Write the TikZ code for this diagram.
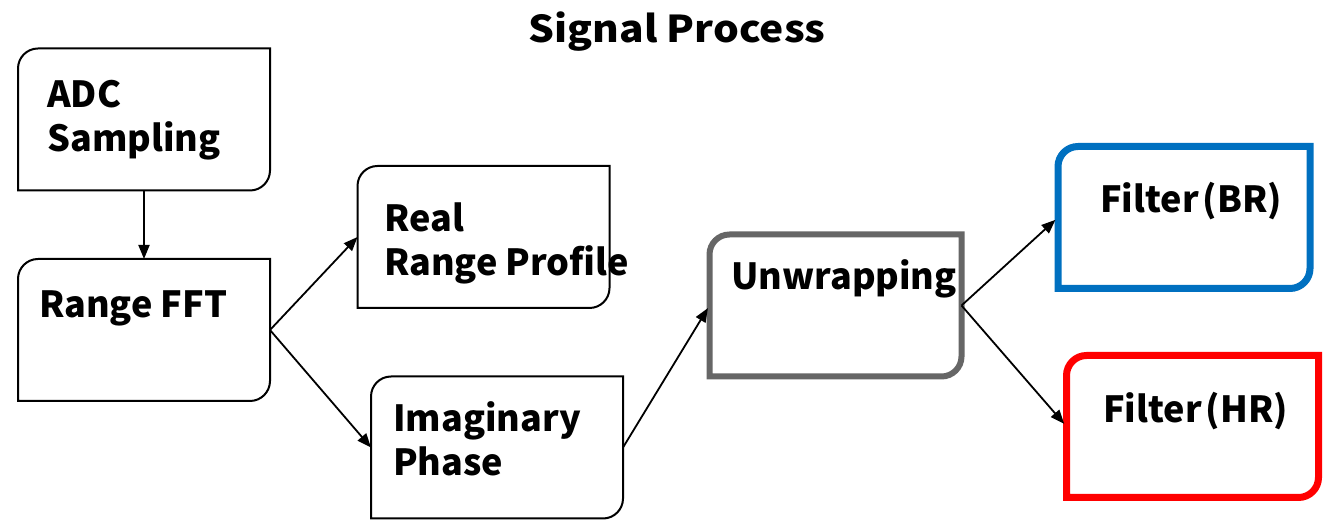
\documentclass[tikz,border=0pt]{standalone}
\usepackage{fontspec}
\setmainfont{Noto Sans CJK JP}
\usetikzlibrary{arrows.meta}
\definecolor{boxblue}{HTML}{0070C0}
\definecolor{boxred}{HTML}{FF0000}
\definecolor{boxgray}{HTML}{666666}
\newcommand\flowoutline[2]{%
  \draw[#2] (#1.south west) -- ([yshift=-20pt]#1.north west)
    arc[start angle=180,end angle=90,radius=20pt] -- (#1.north east)
    -- ([yshift=20pt]#1.south east)
    arc[start angle=0,end angle=-90,radius=20pt] -- cycle;}
\tikzset{
  boxshape/.style={rectangle, minimum width=252pt, minimum height=142pt, inner sep=0pt, outer sep=0pt},
  lbl/.style={inner sep=0pt, align=left, font=\bfseries\fontsize{36}{44}\selectfont},
  thinline/.style={line width=2pt, black},
  grayline/.style={line width=6pt, boxgray},
  blueline/.style={line width=7pt, boxblue},
  redline/.style={line width=7pt, boxred},
  conn/.style={line width=1.8pt, -{Triangle[length=14pt,width=11pt]}},
}
\begin{document}
\begin{tikzpicture}[x=1pt,y=1pt]
\useasboundingbox (0,0) rectangle (1330,521);
\node[boxshape] (adc) at (144,401.5) {};
\node[boxshape] (fft) at (144,191) {};
\node[boxshape] (real) at (483.5,284) {};
\node[boxshape] (imag) at (497,73.5) {};
\node[boxshape] (unw) at (835.5,215.5) {};
\node[boxshape] (br) at (1184,303.5) {};
\node[boxshape] (hr) at (1192.5,94.5) {};
\flowoutline{adc}{thinline}
\flowoutline{fft}{thinline}
\flowoutline{real}{thinline}
\flowoutline{imag}{thinline}
\flowoutline{unw}{grayline}
\flowoutline{br}{blueline}
\flowoutline{hr}{redline}
\node[lbl, anchor=base, xscale=1.1, transform shape] (title) at (677,478) {\fontsize{37}{44}\selectfont Signal Process};
\node[lbl, anchor=base west] (adct) at (47,369) {ADC\\Sampling};
\node[lbl, anchor=base west] (fftt) at (39,203) {Range FFT};
\node[lbl, anchor=base west] (realt) at (384,245) {Real\\Range Profile};
\node[lbl, anchor=base west] (imagt) at (393,45) {Imaginary\\Phase};
\node[lbl, anchor=base west] (unwt) at (731,231) {Unwrapping};
\node[lbl, anchor=base west] (brt) at (1100,308) {Filter\kern4pt(BR)};
\node[lbl, anchor=base west] (hrt) at (1103,98) {Filter\kern4pt(HR)};
\draw[conn] (adc.south) -- (fft.north);
\draw[conn] (fft.east) -- (real.west);
\draw[conn] (fft.east) -- (imag.west);
\draw[conn, shorten >=3pt] (imag.east) -- (unw.west);
\draw[conn, shorten >=3.5pt] (unw.east) -- (br.west);
\draw[conn, shorten >=3.5pt] (unw.east) -- (hr.west);
\end{tikzpicture}
\end{document}
